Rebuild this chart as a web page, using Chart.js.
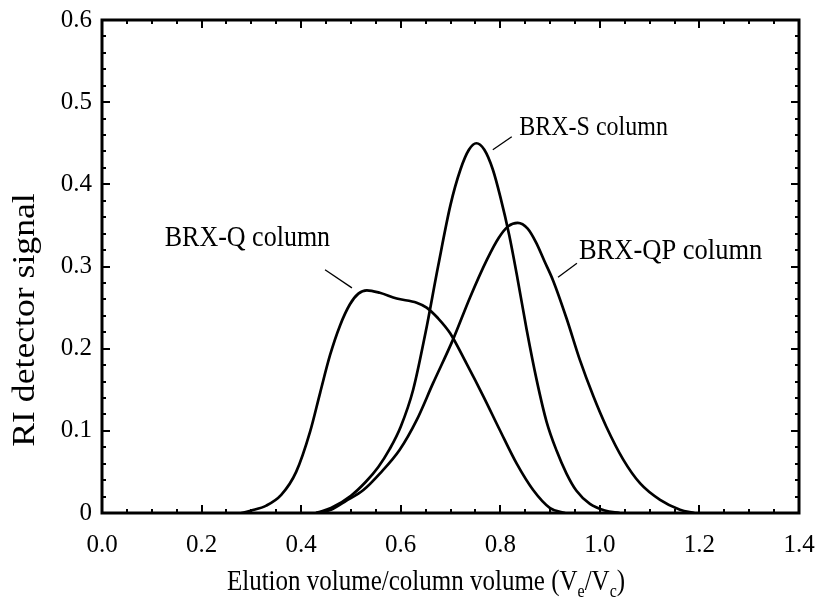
<!DOCTYPE html>
<html>
<head>
<meta charset="utf-8">
<script src="https://cdn.jsdelivr.net/npm/chart.js@4.4.1/dist/chart.umd.min.js"></script>
<style>
  html, body { margin: 0; padding: 0; background: #fff; }
  #wrap { width: 817px; height: 598px; }
</style>
</head>
<body>
<div id="wrap"><canvas id="c" width="817" height="598"></canvas></div>
<script>
// ---- Data ----
const qX  = [0.28, 0.30, 0.33, 0.36, 0.39, 0.418, 0.438, 0.458, 0.478, 0.498, 0.515, 0.532, 0.558, 0.592, 0.632, 0.652, 0.675, 0.699, 0.732, 0.766, 0.799, 0.833, 0.866, 0.90, 0.93];
const qY  = [0, 0.003, 0.009, 0.022, 0.050, 0.099, 0.146, 0.192, 0.228, 0.254, 0.267, 0.271, 0.268, 0.261, 0.256, 0.250, 0.237, 0.219, 0.182, 0.142, 0.101, 0.060, 0.028, 0.006, 0];

const sX  = [0.43, 0.46, 0.50, 0.53, 0.555, 0.578, 0.60, 0.625, 0.65, 0.675, 0.70, 0.72, 0.737, 0.752, 0.768, 0.785, 0.80, 0.818, 0.835, 0.853, 0.873, 0.893, 0.913, 0.933, 0.953, 0.98, 1.01, 1.04];
const sY  = [0, 0.006, 0.021, 0.038, 0.056, 0.078, 0.105, 0.150, 0.220, 0.300, 0.375, 0.418, 0.442, 0.450, 0.442, 0.418, 0.385, 0.338, 0.284, 0.223, 0.162, 0.111, 0.076, 0.048, 0.027, 0.011, 0.003, 0];

const qpX = [0.43, 0.46, 0.491, 0.525, 0.558, 0.598, 0.632, 0.665, 0.705, 0.739, 0.773, 0.797, 0.816, 0.835, 0.855, 0.872, 0.889, 0.906, 0.933, 0.96, 0.987, 1.013, 1.047, 1.081, 1.121, 1.161, 1.19];
const qpY = [0, 0.004, 0.015, 0.028, 0.048, 0.077, 0.113, 0.158, 0.211, 0.262, 0.308, 0.335, 0.349, 0.353, 0.346, 0.329, 0.306, 0.283, 0.237, 0.186, 0.142, 0.105, 0.065, 0.036, 0.016, 0.004, 0];

const seriesNames = ['BRX-Q column', 'BRX-S column', 'BRX-QP column'];
const xTickValues = [0.0, 0.2, 0.4, 0.6, 0.8, 1.0, 1.2, 1.4];
const yTickValues = [0, 0.1, 0.2, 0.3, 0.4, 0.5, 0.6];
const yTitle = 'RI detector signal';

// ---- Build datasets ----
function pts(xs, ys) { return xs.map((x, i) => ({ x: x, y: ys[i] })); }
const lineStyle = { borderColor: '#000', borderWidth: 2.7, pointRadius: 0, fill: false, cubicInterpolationMode: 'monotone' };
const datasets = [
  Object.assign({ label: seriesNames[0], data: pts(qX, qY) }, lineStyle),
  Object.assign({ label: seriesNames[1], data: pts(sX, sY) }, lineStyle),
  Object.assign({ label: seriesNames[2], data: pts(qpX, qpY) }, lineStyle)
];

// annotation placement (data coordinates) and label sizes
const annotations = [
  { text: seriesNames[0], size: 26, at: [0.126, 0.334], line: [[0.448, 0.296], [0.502, 0.274]] },
  { text: seriesNames[1], size: 24, at: [0.838, 0.469], line: [[0.785, 0.442], [0.823, 0.458]] },
  { text: seriesNames[2], size: 26.5, at: [0.958, 0.319], line: [[0.916, 0.287], [0.954, 0.304]] }
];

const FONT = "'Liberation Serif', 'Times New Roman', serif";
const VSTRETCH = 1.15;

function stretchedText(ctx, text, x, y) {
  ctx.save();
  ctx.translate(x, y);
  ctx.scale(1, VSTRETCH);
  ctx.fillText(text, 0, 0);
  ctx.restore();
}

const framePlugin = {
  id: 'frame',
  afterDatasetsDraw(chart) {
    const ctx = chart.ctx;
    const xs = chart.scales.x, ys = chart.scales.y;
    const a = chart.chartArea;
    ctx.save();
    ctx.strokeStyle = '#000';
    // inward ticks
    ctx.lineWidth = 2;
    ctx.beginPath();
    for (let i = 0; i <= 28; i++) {
      const v = i * 0.05;
      const px = Math.round(xs.getPixelForValue(v));
      const len = (i % 4 === 0) ? 8 : 4;
      ctx.moveTo(px, a.bottom); ctx.lineTo(px, a.bottom - len);
      ctx.moveTo(px, a.top); ctx.lineTo(px, a.top + len);
    }
    for (let i = 0; i <= 30; i++) {
      const v = i * 0.02;
      const py = Math.round(ys.getPixelForValue(v));
      const len = (i % 5 === 0) ? 8 : 4;
      ctx.moveTo(a.left, py); ctx.lineTo(a.left + len, py);
      ctx.moveTo(a.right, py); ctx.lineTo(a.right - len, py);
    }
    ctx.stroke();
    // frame
    ctx.lineWidth = 3;
    ctx.strokeRect(a.left, a.top, a.right - a.left, a.bottom - a.top);

    // annotations
    ctx.fillStyle = '#000';
    ctx.textBaseline = 'middle';
    ctx.textAlign = 'left';
    ctx.lineWidth = 1.3;
    annotations.forEach(an => {
      ctx.font = an.size + 'px ' + FONT;
      stretchedText(ctx, an.text, xs.getPixelForValue(an.at[0]), ys.getPixelForValue(an.at[1]));
      ctx.beginPath();
      ctx.moveTo(xs.getPixelForValue(an.line[0][0]), ys.getPixelForValue(an.line[0][1]));
      ctx.lineTo(xs.getPixelForValue(an.line[1][0]), ys.getPixelForValue(an.line[1][1]));
      ctx.stroke();
    });

    // y axis title (rotated)
    ctx.save();
    ctx.font = '31px ' + FONT;
    ctx.textAlign = 'center';
    ctx.textBaseline = 'alphabetic';
    ctx.translate(34, 320);
    ctx.scale(1, VSTRETCH);
    ctx.rotate(-Math.PI / 2);
    ctx.fillText(yTitle, 0, 0);
    ctx.restore();

    // x axis title with subscripts
    const parts = [
      { t: 'Elution volume/column volume (', sub: false },
      { t: 'V', sub: false }, { t: 'e', sub: true },
      { t: '/', sub: false },
      { t: 'V', sub: false }, { t: 'c', sub: true },
      { t: ')', sub: false }
    ];
    const big = '25px ' + FONT, small = '16px ' + FONT;
    let total = 0;
    parts.forEach(p => { ctx.font = p.sub ? small : big; total += ctx.measureText(p.t).width; });
    let cx = 426 - total / 2;
    const base = 590;
    ctx.textBaseline = 'alphabetic';
    ctx.textAlign = 'left';
    parts.forEach(p => {
      ctx.font = p.sub ? small : big;
      stretchedText(ctx, p.t, cx, p.sub ? base + 7 : base);
      cx += ctx.measureText(p.t).width;
    });
    ctx.restore();
  }
};

new Chart(document.getElementById('c'), {
  type: 'line',
  data: { datasets: datasets },
  options: {
    responsive: false,
    animation: false,
    devicePixelRatio: 1,
    layout: { padding: { left: 0, right: 18, top: 20, bottom: 0 } },
    plugins: { legend: { display: false }, tooltip: { enabled: false } },
    scales: {
      x: {
        type: 'linear', min: 0, max: 1.4,
        afterFit: s => { s.height = 85; s.paddingLeft = 0; s.paddingRight = 0; },
        afterBuildTicks: s => { s.ticks = xTickValues.map(v => ({ value: v })); },
        grid: { display: false, drawTicks: false },
        border: { display: false },
        ticks: { color: '#000', padding: 17, font: { family: FONT, size: 25 }, callback: v => Number(v).toFixed(1), maxRotation: 0 }
      },
      y: {
        type: 'linear', min: 0, max: 0.6,
        afterFit: s => { s.width = 102; s.paddingTop = 0; s.paddingBottom = 0; },
        afterBuildTicks: s => { s.ticks = yTickValues.map(v => ({ value: v })); },
        grid: { display: false, drawTicks: false },
        border: { display: false },
        ticks: { color: '#000', padding: 10, font: { family: FONT, size: 25 }, callback: v => (v === 0 ? '0' : Number(v).toFixed(1)) },
        title: { display: false, text: yTitle }
      }
    }
  },
  plugins: [framePlugin]
});
</script>
</body>
</html>
